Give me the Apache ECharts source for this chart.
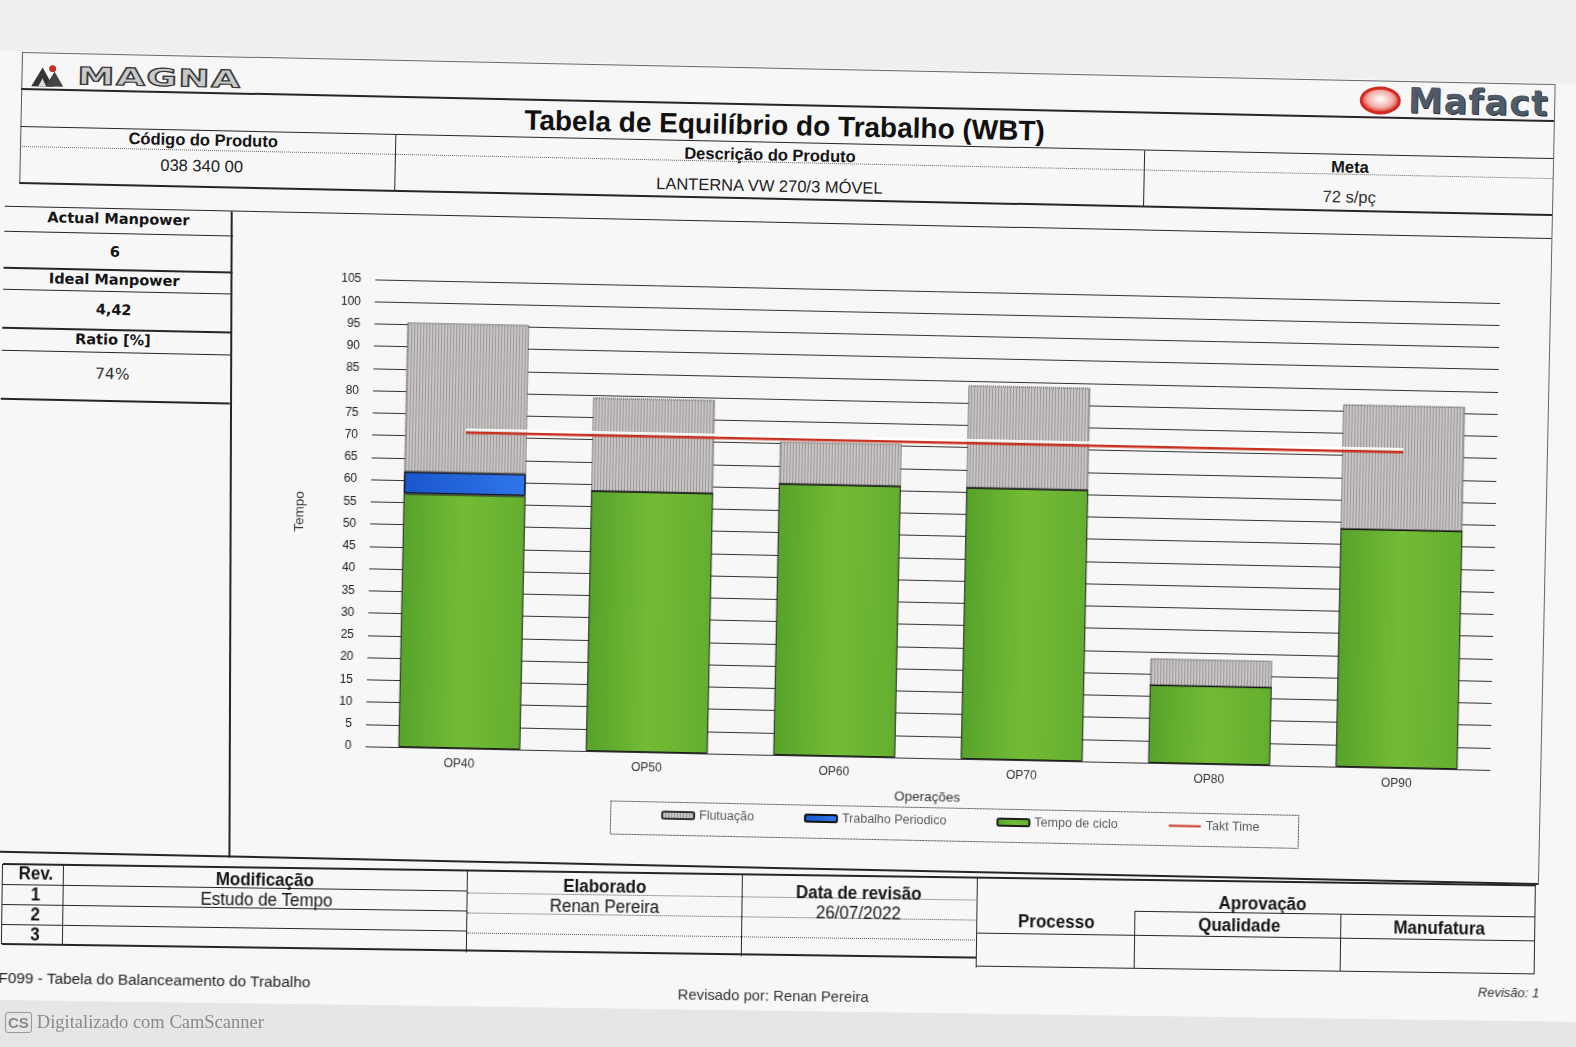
<!DOCTYPE html>
<html><head><meta charset="utf-8">
<script src="https://cdn.jsdelivr.net/npm/echarts@6/dist/echarts.min.js"></script>
<style>
html,body{margin:0;padding:0;width:1576px;height:1047px;overflow:hidden;background:#f7f7f7;font-family:'Liberation Sans',Arial,sans-serif;}
.box{position:absolute;transform-origin:0 0;}
#topBox{left:22px;top:52px;width:1533px;height:812px;transform:rotate(1.2deg);}
#botBox{left:3px;top:864px;width:1535px;height:140px;transform:rotate(0.8deg);}
.ln{position:absolute;}
.t{position:absolute;transform:translate(-50%,-50%);white-space:nowrap;color:#151515;line-height:1;}
.b14{font-weight:bold;font-size:16.5px;}
.r14{font-size:16.5px;color:#222;}
.dv{font-family:'DejaVu Sans',sans-serif;font-weight:bold;font-size:14.5px;}
.rv{font-weight:bold;font-size:17px;transform:translate(-50%,-50%) scaleY(1.1);}
#chart{position:absolute;left:215px;top:156px;width:1318px;height:645px;}
#cs{position:absolute;left:5px;top:1012px;font-family:'Liberation Serif','DejaVu Serif',serif;font-size:18.5px;color:#8a8a8a;white-space:nowrap;}
#cs span.k{display:inline-block;border:1.5px solid #999;border-radius:3px;font-family:'Liberation Sans',sans-serif;font-weight:bold;font-size:15px;padding:1px 2px;margin-right:5px;color:#888;}
</style></head>
<body>
<div id="topBox" class="box"></div>
<div id="botBox" class="box"></div>
<div id="cs"><span class="k">CS</span>Digitalizado com CamScanner</div>
<script>
// ---------- chart data ----------
const categories = ['OP40', 'OP50', 'OP60', 'OP70', 'OP80', 'OP90'];
const tempoCiclo = [57, 58.5, 61, 61, 17.5, 53.5];
const trabalhoPeriodico = [5, 0, 0, 0, 0, 0];
const flutuacao = [33.5, 21, 9.5, 23, 6, 28];
const taktTime = [71, 71, 71, 71, 71, 71];
const yMin = 0, yMax = 105, yStep = 5;
const seriesNames = ['Flutuação', 'Trabalho Periodico', 'Tempo de ciclo', 'Takt Time'];

// ---------- form helpers ----------
function el(p, cls, css, text) { const d = document.createElement('div'); d.className = cls; Object.assign(d.style, css); if (text != null) d.textContent = text; p.appendChild(d); return d; }
function H(p, u1, u2, v, w, style, color) { w = w || 1; return el(p, 'ln', { left: u1 + 'px', top: (v - w / 2) + 'px', width: (u2 - u1) + 'px', height: '0', borderTop: w + 'px ' + (style || 'solid') + ' ' + (color || '#262626') }); }
function V(p, u, v1, v2, w, style, color) { w = w || 1; return el(p, 'ln', { left: (u - w / 2) + 'px', top: v1 + 'px', height: (v2 - v1) + 'px', width: '0', borderLeft: w + 'px ' + (style || 'solid') + ' ' + (color || '#262626') }); }
function T(p, text, u, v, cls, css) { return el(p, 't ' + (cls || ''), Object.assign({ left: u + 'px', top: v + 'px' }, css || {}), text); }

const tb = document.getElementById('topBox');
const bb = document.getElementById('botBox');

// grey page strips
el(tb, 'ln', { left: '-100px', top: '-200px', width: '1800px', height: '199px', background: '#efefef' });
el(bb, 'ln', { left: '-100px', top: '136px', width: '1800px', height: '200px', background: '#e6e6e6' });

// header
H(tb, 0, 1533, 0, 1, 'solid', '#666');
V(tb, 0, 0, 131, 1, 'solid', '#555');
V(tb, 1533, 0, 801, 1, 'solid', '#666');
H(tb, 0, 1533, 37, 2);
H(tb, 0, 1533, 75, 1.5);
H(tb, 0, 1533, 94, 1, 'dotted', '#666');
H(tb, 0, 1533, 131, 2);
H(tb, -14, 1533, 155, 1.5);
V(tb, 375.5, 75, 131, 1);
V(tb, 1124, 75, 131, 1);

// MAGNA logo
const lg = el(tb, 'ln', { left: '8px', top: '10px', width: '220px', height: '26px' });
lg.innerHTML = '<svg width="46" height="24" style="position:absolute;left:0;top:1px"><polygon points="2,23 13,4 24,23" fill="#333"/><polygon points="16,23 25,8 34,23" fill="#444"/><polygon points="9,23 13,15 17,23" fill="#ddd"/><circle cx="23" cy="5" r="3.5" fill="#c8302a"/></svg>';
T(tb, 'MAGNA', 138, 23, '', { fontFamily: "'DejaVu Sans',sans-serif", fontWeight: 'bold', fontSize: '24px', color: '#c9c9c9', webkitTextStroke: '1.2px #3a3a3a', transform: 'translate(-50%,-50%) scaleX(1.55)', letterSpacing: '1px' });

// Mafact logo
const mf = el(tb, 'ln', { left: '1337px', top: '5px', width: '46px', height: '30px' });
mf.innerHTML = '<svg width="46" height="30"><defs><radialGradient id="rg" cx="50%" cy="45%" r="55%"><stop offset="0" stop-color="#fff"/><stop offset="0.6" stop-color="#f3b0a8"/><stop offset="1" stop-color="#d4261c"/></radialGradient></defs><ellipse cx="22" cy="15" rx="19" ry="12.5" fill="url(#rg)" stroke="#d22a20" stroke-width="3"/></svg>';
T(tb, 'Mafact', 1457, 20, '', { fontFamily: "'DejaVu Sans',sans-serif", fontWeight: 'bold', fontSize: '35px', color: '#4f5b69', textShadow: '1px 1px 0 #2a323c', letterSpacing: '1px' });

// title and product row
T(tb, 'Tabela de Equilíbrio do Trabalho (WBT)', 764, 58, '', { fontWeight: 'bold', fontSize: '28px', color: '#111' });
T(tb, 'Código do Produto', 183, 84, 'b14');
T(tb, '038 340 00', 182, 110, 'r14');
T(tb, 'Descrição do Produto', 750, 87, 'b14');
T(tb, 'LANTERNA VW 270/3 MÓVEL', 750, 118, 'r14');
T(tb, 'Meta', 1330, 87, 'b14');
T(tb, '72 s/pç', 1330, 117, 'r14', { color: '#333' });

// left panel
[[179.4, 1.5], [216.4, 2], [237.4, 1.5], [276.4, 2], [298.4, 1.5], [347.4, 2]].forEach(a => H(tb, -14, 215, a[0], a[1]));
const div1 = V(tb, 213, 155, 801, 2);
div1.style.transform = 'rotate(-1.0deg)'; div1.style.transformOrigin = '0 0';
H(tb, -14, 1533, 800, 2);
T(tb, 'Actual Manpower', 100, 165, 'dv');
T(tb, '6', 97, 198, 'dv');
T(tb, 'Ideal Manpower', 97, 226, 'dv');
T(tb, '4,42', 97, 256, 'dv');
T(tb, 'Ratio [%]', 97, 286, 'dv');
T(tb, '74%', 97, 321, 'dv', { fontWeight: 'normal', fontSize: '15.5px', color: '#333' });

// revision table
H(bb, 0, 1533, 0, 2);
[20, 40, 60].forEach(v => H(bb, 0, 465, v, 1));
H(bb, 0, 975, 80, 2);
V(bb, 0, 0, 80, 1.5); V(bb, 61, 0, 80, 1.5); V(bb, 465, 0, 82, 1.5);
[22, 42, 62].forEach(v => H(bb, 465, 975, v, 1, 'dotted', '#555'));
V(bb, 740, 0, 82, 1.5);
V(bb, 975, 0, 90, 1.5);
H(bb, 1132, 1533, 31, 1);
H(bb, 975, 1533, 55, 1);
H(bb, 975, 1533, 89, 1.5);
V(bb, 1132, 31, 89, 1); V(bb, 1338, 31, 89, 1); V(bb, 1533, 0, 89, 1.5);
T(bb, 'Rev.', 33, 9, 'rv');
T(bb, '1', 33, 30, 'rv'); T(bb, '2', 33, 50, 'rv'); T(bb, '3', 33, 70, 'rv');
T(bb, 'Modificação', 262, 12, 'rv');
T(bb, 'Estudo de Tempo', 264, 32, 'rv', { fontWeight: 'normal' });
T(bb, 'Elaborado', 602, 14, 'rv');
T(bb, 'Renan Pereira', 602, 34, 'rv', { fontWeight: 'normal' });
T(bb, 'Data de revisão', 856, 17, 'rv');
T(bb, '26/07/2022', 856, 37, 'rv', { fontWeight: 'normal' });
T(bb, 'Aprovação', 1260, 22, 'rv');
T(bb, 'Processo', 1054, 43, 'rv');
T(bb, 'Qualidade', 1237, 44, 'rv');
T(bb, 'Manufatura', 1437, 44, 'rv');
T(bb, 'F099 - Tabela do Balanceamento do Trabalho', -3, 114, '', { fontSize: '15.4px', color: '#222', transform: 'translate(0,-50%)' });
T(bb, 'Revisado por: Renan Pereira', 772, 121, '', { fontSize: '14.8px', color: '#333' });
T(bb, 'Revisão: 1', 1538, 107, '', { fontSize: '13px', fontStyle: 'italic', color: '#333', transform: 'translate(-100%,-50%)' });

// ---------- chart ----------
const chartDiv = el(tb, '', {});
chartDiv.id = 'chart';
function stripes(base, line, w) {
  const c = document.createElement('canvas'); c.width = w; c.height = 4;
  const g = c.getContext('2d'); g.fillStyle = base; g.fillRect(0, 0, w, 4);
  g.fillStyle = line; g.fillRect(0, 0, 1, 4); return c;
}
const greyFill = { image: stripes('#c8c4c4', '#9e9a9a', 3), repeat: 'repeat' };
const greenFill = { type: 'linear', x: 0, y: 0, x2: 1, y2: 0, colorStops: [{ offset: 0, color: '#56a32b' }, { offset: 0.5, color: '#74bb35' }, { offset: 1, color: '#64ae30' }] };
const blueFill = { type: 'linear', x: 0, y: 0, x2: 1, y2: 0, colorStops: [{ offset: 0, color: '#1a56cc' }, { offset: 1, color: '#2f76ea' }] };

const chart = echarts.init(chartDiv, null, { renderer: 'canvas' });
chart.setOption({
  animation: false,
  textStyle: { fontFamily: "'Liberation Sans', Arial, sans-serif" },
  grid: { left: 143, right: 50, top: 64, bottom: 114 },
  legend: {
    data: [
      { name: seriesNames[0] },
      { name: seriesNames[1] },
      { name: seriesNames[2] },
      { name: seriesNames[3], itemStyle: { opacity: 0 } }
    ],
    left: 440, top: 587, padding: 0, itemGap: 50,
    itemWidth: 32, itemHeight: 7,
    textStyle: { fontSize: 12.5, color: '#5a5a5a' }
  },
  graphic: [{ type: 'rect', left: 387, top: 578, shape: { width: 688, height: 33 }, style: { fill: 'none', stroke: '#444', lineWidth: 1, lineDash: [2, 1] }, silent: true }],
  xAxis: {
    type: 'category', data: categories,
    axisLine: { show: false }, axisTick: { show: false },
    axisLabel: { fontSize: 12, color: '#333', margin: 10 },
    name: 'Operações', nameLocation: 'middle', nameGap: 32,
    nameTextStyle: { fontSize: 13.5, color: '#333' }
  },
  yAxis: {
    type: 'value', min: yMin, max: yMax, interval: yStep,
    axisLine: { show: false }, axisTick: { show: false },
    axisLabel: { fontSize: 12, color: '#222', margin: 14 },
    splitLine: { lineStyle: { color: '#333', width: 1 } },
    name: 'Tempo', nameLocation: 'middle', nameGap: 64, nameRotate: 90,
    nameTextStyle: { fontSize: 13.5, color: '#333' }
  },
  series: [
    { name: seriesNames[2], type: 'bar', stack: 'wbt', barWidth: 122, data: tempoCiclo,
      itemStyle: { color: greenFill, borderColor: '#1c1c1c', borderWidth: 1 } },
    { name: seriesNames[1], type: 'bar', stack: 'wbt', barWidth: 122, data: trabalhoPeriodico,
      itemStyle: { color: blueFill, borderColor: '#111', borderWidth: 1.5 } },
    { name: seriesNames[0], type: 'bar', stack: 'wbt', barWidth: 122, data: flutuacao,
      itemStyle: { color: greyFill, borderColor: '#333', borderWidth: 1, borderType: 'dotted' } },
    { name: seriesNames[3], type: 'line', data: taktTime, symbol: 'none', z: 10,
      lineStyle: { color: '#c9301f', width: 2.5, shadowColor: 'rgba(255,255,255,0.95)', shadowOffsetY: -3, shadowBlur: 0 },
      itemStyle: { color: '#c9301f' } }
  ]
});
</script>
</body></html>
